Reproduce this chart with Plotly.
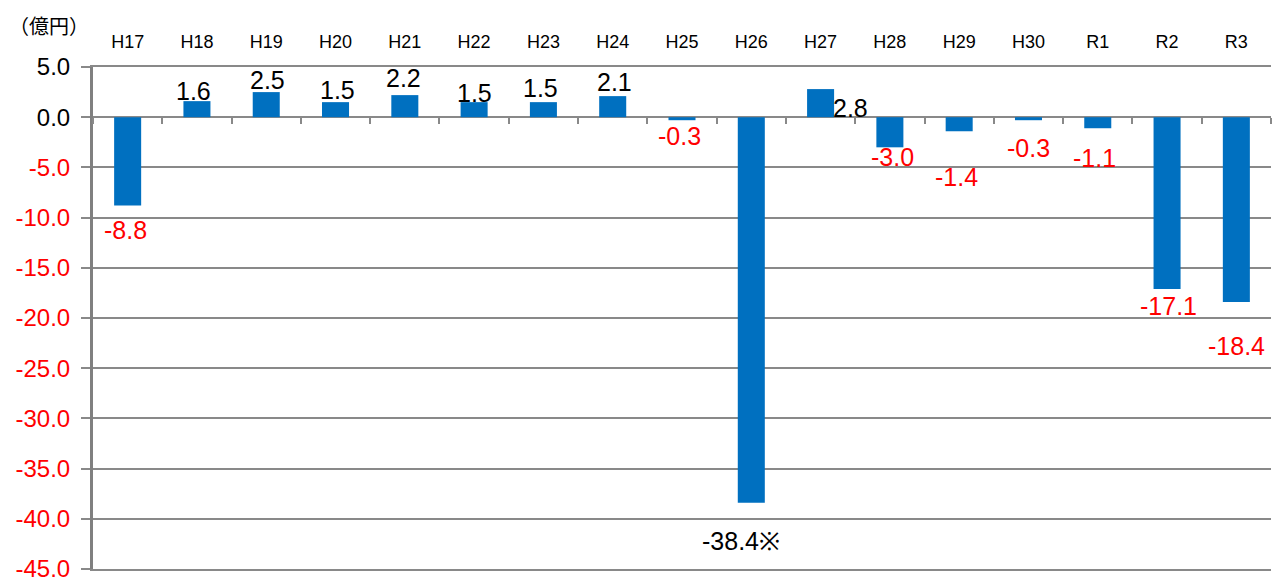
import plotly.graph_objects as go

categories = ["H17", "H18", "H19", "H20", "H21", "H22", "H23", "H24", "H25",
              "H26", "H27", "H28", "H29", "H30", "R1", "R2", "R3"]
values = [-8.8, 1.6, 2.5, 1.5, 2.2, 1.5, 1.5, 2.1, -0.3,
          -38.4, 2.8, -3.0, -1.4, -0.3, -1.1, -17.1, -18.4]
label_texts = ["-8.8", "1.6", "2.5", "1.5", "2.2", "1.5", "1.5", "2.1", "-0.3",
               "-38.4※", "2.8", "-3.0", "-1.4", "-0.3", "-1.1", "-17.1", "-18.4"]
y_tick_values = [5, 0, -5, -10, -15, -20, -25, -30, -35, -40, -45]
unit_label = "（億円）"

# style: label offsets in pixels (xshift, yshift) relative to bar end
label_offsets = {
    "H17": (-2, -24), "H18": (-3, 10), "H19": (1, 12), "H20": (2, 12),
    "H21": (-1, 17), "H22": (0, 9), "H23": (-3, 14), "H24": (2, 14),
    "H25": (-3, -16), "H26": (-10, -38), "H27": (30, -19), "H28": (3, -10),
    "H29": (-3, -46), "H30": (0, -28), "R1": (-3, -30), "R2": (1, -17),
    "R3": (0, -44),
}
# H26 label is black despite being negative
label_colors = ["#000000" if (v >= 0 or c == "H26") else "#FF0000"
                for c, v in zip(categories, values)]

BAR = "#0070C0"
GRID = "#898989"
FONT = "Liberation Sans, Arial, sans-serif"

fig = go.Figure()
fig.add_trace(go.Bar(x=categories, y=values, marker=dict(color=BAR, line=dict(width=0)),
                     hoverinfo="skip", showlegend=False))
fig.add_trace(go.Scatter(x=categories, y=values, xaxis="x2", mode="markers",
                         marker=dict(opacity=0), hoverinfo="skip", showlegend=False))

for c, v, t, col in zip(categories, values, label_texts, label_colors):
    dx, dy = label_offsets[c]
    fig.add_annotation(x=c, y=v, text=t, showarrow=False, xanchor="center", yanchor="middle",
                       xshift=dx, yshift=dy, font=dict(family=FONT, size=25, color=col))

fig.add_annotation(xref="paper", yref="paper", x=(49 - 93) / 1178, y=1 + (67 - 25) / 502,
                   text=unit_label, showarrow=False, xanchor="center", yanchor="middle",
                   font=dict(family="Noto Sans CJK JP, sans-serif", size=20, color="#000000"))

tick_text = [f'<span style="color:{"#000000" if v >= 0 else "#FF0000"}">{v:.1f}</span>'
             for v in y_tick_values]

fig.update_layout(
    width=1274, height=581,
    margin=dict(l=93, r=3, t=67, b=12, autoexpand=False),
    paper_bgcolor="white", plot_bgcolor="white",
    bargap=0.61,
    font=dict(family=FONT, color="#000000"),
    xaxis=dict(type="category", categoryarray=categories, range=[-0.5, 16.5],
               side="top", showgrid=False, ticks="", showline=True, mirror=True,
               linecolor=GRID, linewidth=2, tickfont=dict(size=18, family=FONT),
               ticklabelstandoff=10, fixedrange=True, automargin=False),
    xaxis2=dict(type="category", categoryarray=categories, range=[-0.5, 16.5],
                overlaying="x", anchor="free", position=0.9, side="bottom",
                showgrid=False, showline=False, showticklabels=False,
                ticks="outside", tickson="boundaries", ticklen=6, tickwidth=2,
                tickcolor=GRID, fixedrange=True, automargin=False),
    yaxis=dict(range=[-45, 5], tickmode="array", tickvals=y_tick_values, ticktext=tick_text,
               showgrid=True, gridcolor=GRID, gridwidth=2, zeroline=False,
               showline=True, linecolor="#808080", linewidth=3,
               ticks="outside", ticklen=9, tickwidth=2, tickcolor=GRID,
               ticklabeloverflow="allow", automargin=False,
               tickfont=dict(size=24, family=FONT), ticklabelstandoff=6, fixedrange=True),
)

fig.write_html("out.html")
